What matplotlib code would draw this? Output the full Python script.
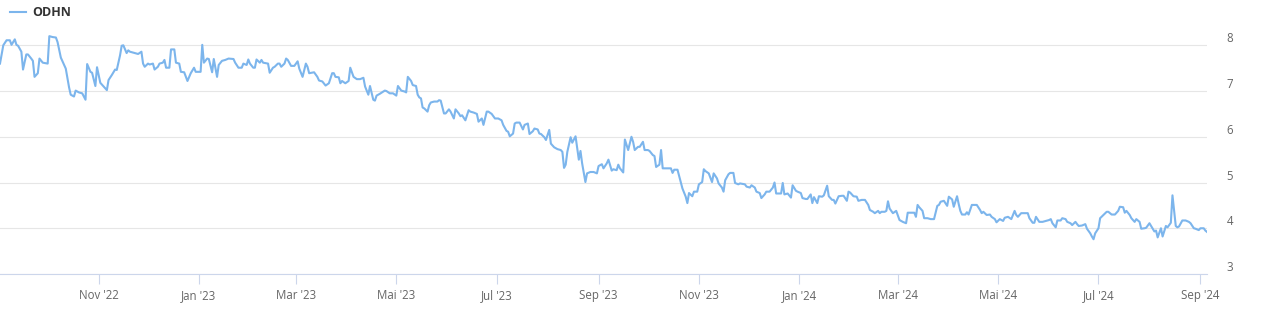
import numpy as np
import matplotlib
matplotlib.use("Agg")
import matplotlib.pyplot as plt

# Kursverlauf ODHN, Tage ab dem 02.09.2022
start_date = np.datetime64("2022-09-02")
days = [
    0, 2, 4, 6, 7, 9, 10, 11, 13, 14, 16, 17, 19, 20, 21, 23, 24, 26, 29, 30,
    32, 34, 35, 37, 40, 42, 43, 45, 46, 48, 50, 52, 53, 55, 56, 58, 59, 61, 63, 65,
    66, 68, 70, 71, 73, 74, 75, 77, 78, 79, 82, 84, 86, 87, 88, 90, 91, 93, 94, 96,
    97, 99, 100, 101, 103, 104, 106, 107, 109, 110, 112, 114, 116, 118, 119, 122, 123, 124, 126, 127,
    129, 130, 132, 133, 135, 137, 139, 142, 143, 145, 147, 148, 150, 151, 152, 154, 155, 156, 158, 159,
    160, 163, 164, 166, 167, 169, 170, 171, 173, 174, 175, 177, 179, 181, 182, 184, 186, 187, 188, 191,
    193, 194, 196, 198, 200, 202, 203, 204, 206, 207, 208, 210, 212, 213, 215, 217, 219, 221, 222, 224,
    225, 227, 228, 229, 231, 234, 235, 237, 239, 241, 242, 244, 246, 247, 248, 250, 251, 253, 254, 255,
    256, 257, 258, 260, 261, 262, 264, 266, 267, 268, 270, 271, 273, 274, 276, 277, 279, 280, 281, 283,
    285, 286, 288, 290, 291, 293, 294, 296, 297, 299, 301, 303, 305, 306, 308, 309, 310, 312, 313, 314,
    316, 318, 319, 321, 322, 324, 325, 327, 328, 329, 331, 332, 334, 335, 337, 339, 341, 342, 343, 344,
    345, 347, 348, 350, 352, 353, 354, 356, 357, 359, 361, 363, 364, 366, 367, 369, 370, 372, 373, 375,
    376, 377, 379, 380, 382, 384, 385, 386, 388, 389, 391, 392, 394, 395, 397, 398, 399, 401, 402, 403,
    405, 408, 409, 410, 412, 414, 415, 417, 418, 419, 421, 422, 424, 425, 427, 428, 429, 431, 433, 434,
    436, 437, 439, 440, 441, 443, 444, 446, 447, 449, 450, 453, 454, 456, 457, 459, 460, 462, 463, 465,
    466, 468, 470, 471, 472, 475, 476, 477, 479, 481, 482, 484, 485, 487, 488, 490, 491, 493, 494, 495,
    497, 498, 500, 501, 503, 504, 506, 507, 508, 510, 512, 513, 515, 516, 517, 519, 521, 522, 524, 526,
    528, 529, 531, 532, 534, 535, 536, 538, 539, 540, 541, 543, 545, 547, 549, 551, 552, 554, 556, 557,
    558, 559, 561, 562, 564, 566, 568, 570, 571, 572, 574, 576, 577, 579, 580, 582, 583, 584, 585, 587,
    588, 589, 591, 592, 594, 596, 597, 598, 600, 602, 603, 605, 606, 608, 610, 611, 613, 615, 617, 618,
    619, 621, 623, 625, 626, 628, 629, 630, 632, 634, 636, 638, 639, 640, 642, 643, 645, 646, 648, 649,
    651, 652, 654, 655, 656, 658, 660, 661, 663, 664, 665, 666, 668, 669, 671, 673, 674, 676, 678, 680,
    681, 683, 684, 685, 687, 688, 690, 691, 693, 694, 696, 697, 699, 700, 702, 703, 704, 706, 707, 709,
    710, 712, 713, 715, 716, 717, 719, 721, 723, 724, 726, 727, 729, 730, 732, 733, 734,
]
prices = [
    7.60, 8.00, 8.11, 8.11, 8.01, 8.13, 8.01, 7.99, 7.86, 7.47, 7.80, 7.80, 7.71, 7.66, 7.31, 7.39, 7.71, 7.62, 7.60, 8.20,
    8.18, 8.17, 8.07, 7.73, 7.49, 7.08, 6.92, 6.88, 7.01, 6.97, 6.95, 6.81, 7.59, 7.42, 7.40, 7.11, 7.52, 7.18, 7.10, 7.02,
    7.24, 7.35, 7.47, 7.46, 7.78, 7.99, 8.00, 7.83, 7.89, 7.86, 7.83, 7.81, 7.86, 7.60, 7.53, 7.60, 7.58, 7.60, 7.47, 7.53,
    7.60, 7.62, 7.68, 7.51, 7.51, 7.91, 7.91, 7.62, 7.60, 7.42, 7.41, 7.22, 7.39, 7.51, 7.42, 7.42, 8.01, 7.62, 7.71, 7.70,
    7.41, 7.70, 7.31, 7.57, 7.66, 7.68, 7.71, 7.70, 7.62, 7.51, 7.51, 7.60, 7.57, 7.69, 7.60, 7.51, 7.51, 7.69, 7.62, 7.68,
    7.62, 7.60, 7.40, 7.51, 7.53, 7.60, 7.60, 7.53, 7.60, 7.71, 7.68, 7.55, 7.55, 7.65, 7.49, 7.31, 7.60, 7.53, 7.39, 7.41,
    7.31, 7.23, 7.21, 7.12, 7.17, 7.39, 7.39, 7.31, 7.30, 7.17, 7.22, 7.17, 7.22, 7.51, 7.31, 7.26, 7.26, 7.29, 7.10, 6.92,
    7.11, 6.81, 6.79, 6.90, 6.94, 7.01, 7.00, 6.95, 6.95, 6.90, 7.11, 7.01, 6.99, 6.97, 7.31, 7.22, 7.13, 7.11, 6.92, 6.86,
    6.84, 6.64, 6.62, 6.55, 6.69, 6.75, 6.77, 6.77, 6.80, 6.79, 6.51, 6.51, 6.60, 6.55, 6.40, 6.60, 6.51, 6.45, 6.47, 6.36,
    6.58, 6.55, 6.53, 6.50, 6.33, 6.40, 6.26, 6.55, 6.55, 6.50, 6.40, 6.40, 6.36, 6.26, 6.13, 6.11, 6.01, 6.07, 6.29, 6.31,
    6.31, 6.16, 6.26, 6.29, 6.06, 6.12, 6.18, 6.16, 6.07, 6.06, 5.99, 5.93, 6.15, 5.85, 5.77, 5.73, 5.71, 5.67, 5.32, 5.39,
    5.67, 5.99, 5.87, 6.01, 5.50, 5.69, 5.42, 5.01, 5.20, 5.23, 5.23, 5.20, 5.36, 5.40, 5.31, 5.42, 5.50, 5.26, 5.29, 5.27,
    5.39, 5.31, 5.22, 5.94, 5.71, 6.00, 5.89, 5.71, 5.78, 5.78, 5.89, 5.71, 5.71, 5.69, 5.60, 5.58, 5.34, 5.39, 5.71, 5.31,
    5.31, 5.31, 5.21, 5.28, 5.28, 5.01, 4.87, 4.69, 4.55, 4.77, 4.70, 4.80, 4.80, 4.96, 5.01, 5.29, 5.25, 5.20, 5.01, 5.20,
    5.09, 4.98, 4.89, 4.80, 5.05, 5.18, 5.21, 5.21, 4.99, 4.96, 4.98, 4.96, 4.91, 4.89, 4.94, 4.89, 4.80, 4.77, 4.66, 4.74,
    4.80, 4.80, 4.89, 5.00, 4.76, 4.76, 4.99, 4.74, 4.76, 4.67, 4.94, 4.82, 4.80, 4.77, 4.66, 4.64, 4.64, 4.74, 4.55, 4.68,
    4.55, 4.70, 4.69, 4.72, 4.93, 4.70, 4.62, 4.62, 4.54, 4.70, 4.71, 4.71, 4.60, 4.80, 4.78, 4.70, 4.69, 4.60, 4.62, 4.62,
    4.51, 4.40, 4.36, 4.33, 4.38, 4.33, 4.36, 4.36, 4.38, 4.59, 4.43, 4.33, 4.38, 4.18, 4.14, 4.11, 4.34, 4.34, 4.34, 4.25,
    4.51, 4.46, 4.38, 4.22, 4.22, 4.20, 4.20, 4.49, 4.51, 4.58, 4.60, 4.49, 4.69, 4.63, 4.47, 4.70, 4.53, 4.38, 4.30, 4.30,
    4.35, 4.30, 4.51, 4.51, 4.51, 4.40, 4.33, 4.36, 4.29, 4.30, 4.25, 4.20, 4.13, 4.20, 4.16, 4.23, 4.25, 4.20, 4.38, 4.29,
    4.25, 4.33, 4.33, 4.33, 4.22, 4.12, 4.12, 4.25, 4.14, 4.14, 4.16, 4.18, 4.20, 4.11, 4.02, 4.17, 4.17, 4.22, 4.20, 4.14,
    4.11, 4.07, 4.14, 4.09, 4.05, 4.06, 4.09, 3.99, 3.89, 3.82, 3.76, 3.89, 4.00, 4.22, 4.29, 4.36, 4.36, 4.30, 4.30, 4.38,
    4.47, 4.46, 4.34, 4.38, 4.29, 4.22, 4.14, 4.20, 4.14, 3.99, 4.00, 4.01, 4.11, 4.05, 3.93, 3.95, 3.80, 4.00, 3.82, 4.05,
    4.02, 4.12, 4.72, 4.05, 4.02, 4.04, 4.17, 4.17, 4.14, 4.11, 4.00, 3.99, 3.96, 4.00, 4.00, 3.95, 3.92,
]

y_ticks = [3, 4, 5, 6, 7, 8]
x_tick_dates = ["2022-11-01", "2023-01-01", "2023-03-01", "2023-05-01", "2023-07-01", "2023-09-01",
                "2023-11-01", "2024-01-01", "2024-03-01", "2024-05-01", "2024-07-01", "2024-09-01"]
x_tick_labels = ["Nov '22", "Jan '23", "Mar '23", "Mai '23", "Jul '23", "Sep '23",
                 "Nov '23", "Jan '24", "Mar '24", "Mai '24", "Jul '24", "Sep '24"]

dates = start_date + np.array(days)

plt.rcParams['font.family'] = ['Open Sans', 'DejaVu Sans']

fig = plt.figure(figsize=(12.68, 3.1), dpi=100)
ax = fig.add_axes([0, 36 / 310, 1207 / 1268, 247 / 310])

ax.plot(dates, prices, color="#7cb5ec", linewidth=1.5, label="ODHN", solid_joinstyle="round")

ax.set_xlim(dates[0], dates[-1])
ax.set_ylim(3, 8.4)

# y-Achse rechts, Beschriftung knapp über den Gitterlinien
ax.yaxis.tick_right()
ax.set_yticks(y_ticks)
ax.set_yticklabels([str(v) for v in y_ticks])
ax.tick_params(axis='y', length=0, pad=14, labelsize=8.3, labelcolor="#666666")
for lab in ax.get_yticklabels():
    lab.set_verticalalignment('bottom')

ax.set_xticks(np.array(x_tick_dates, dtype="datetime64[D]"))
ax.set_xticklabels(x_tick_labels)
ax.tick_params(axis='x', length=7.2, width=0.8, color="#ccd6eb", pad=3.5,
               labelsize=8.3, labelcolor="#666666")

ax.grid(axis='y', color="#e6e6e6", linewidth=0.8)
ax.set_axisbelow(True)
for side in ["top", "left", "right"]:
    ax.spines[side].set_visible(False)
ax.spines["bottom"].set_color("#ccd6eb")
ax.spines["bottom"].set_linewidth(0.8)

leg = fig.legend(loc="upper left", bbox_to_anchor=(10 / 1268, 1 - 6 / 310), frameon=False,
                 borderpad=0, borderaxespad=0, handlelength=1.3, handletextpad=0.45,
                 prop={'size': 9, 'weight': 'bold'})
for t in leg.get_texts():
    t.set_color("#333333")

fig.savefig("out.png", dpi=100)
